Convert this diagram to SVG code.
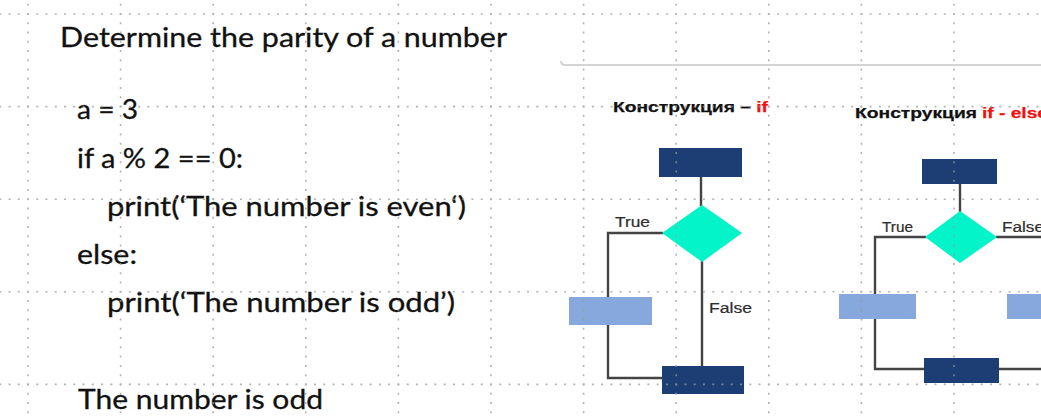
<svg xmlns="http://www.w3.org/2000/svg" width="1041" height="419" viewBox="0 0 1041 419">
  <style>
    .code { font-family: Lato, "Open Sans", "Liberation Sans", sans-serif; font-size: 27px; fill: #111; stroke: #111; stroke-width: 0.3; }
    .cap { font-family: "Liberation Sans", Arial, sans-serif; font-weight: bold; font-size: 15px; fill: #111; stroke: #111; stroke-width: 0.25; }
    .red { fill: #f01010; stroke: #f01010; }
    .lbl { font-family: "Liberation Sans", Arial, sans-serif; font-size: 14px; fill: #2e2e2e; stroke: #2e2e2e; stroke-width: 0.2; }
    .dark { fill: #1d3e74; }
    .light { fill: #86a8dc; }
    .dec { fill: #02f4c8; }
    .wire { fill: none; stroke: #444; stroke-width: 2.4; }
    .grid { fill: none; stroke: #9a9a9a; stroke-width: 1.6; stroke-dasharray: 2 7.26; opacity: 0.75; }
  </style>

  <rect width="1041" height="419" fill="#fff"/>

  <!-- program listing -->
  <g id="listing">
    <text class="code" x="60" y="47" textLength="447" lengthAdjust="spacingAndGlyphs">Determine the parity of a number</text>
    <text class="code" x="77" y="119" textLength="61" lengthAdjust="spacingAndGlyphs">a = 3</text>
    <text class="code" x="77" y="168" textLength="166" lengthAdjust="spacingAndGlyphs">if a % 2 == 0:</text>
    <text class="code" x="107" y="216" textLength="359" lengthAdjust="spacingAndGlyphs">print(‘The number is even‘)</text>
    <text class="code" x="77" y="264" textLength="60" lengthAdjust="spacingAndGlyphs">else:</text>
    <text class="code" x="107" y="312" textLength="348" lengthAdjust="spacingAndGlyphs">print(‘The number is odd’)</text>
    <text class="code" x="78" y="409" textLength="245" lengthAdjust="spacingAndGlyphs">The number is odd</text>
  </g>

  <!-- separator under the slide header -->
  <path d="M561,61 Q561,65 565,65 H1041" fill="none" stroke="#d4d4d4" stroke-width="2"/>

  <!-- captions -->
  <g id="caption-if">
    <text class="cap" x="613" y="112" textLength="155" lengthAdjust="spacingAndGlyphs">Конструкция – <tspan class="red">if</tspan></text>
  </g>
  <g id="caption-if-else">
    <text class="cap" x="855" y="118" textLength="122" lengthAdjust="spacingAndGlyphs">Конструкция</text>
    <text class="cap red" x="982" y="118" textLength="66" lengthAdjust="spacingAndGlyphs">if - else</text>
  </g>

  <!-- connectors -->
  <g id="connectors">
    <!-- if -->
    <path class="wire" d="M701,177 V206"/>
    <path class="wire" d="M663,233 H608 V297"/>
    <path class="wire" d="M608,325 V378 H662"/>
    <path class="wire" d="M702,261 V366"/>
    <!-- if - else -->
    <path class="wire" d="M960,184 V212"/>
    <path class="wire" d="M926,237 H875 V294"/>
    <path class="wire" d="M996,237 H1041"/>
    <path class="wire" d="M875,319 V369 H924"/>
    <path class="wire" d="M999,369 H1041"/>
  </g>

  <!-- flowchart "if" -->
  <g id="if-start"><rect class="dark" x="659" y="148" width="83" height="29"/></g>
  <g id="if-cond"><polygon class="dec" points="702,205 742,233 702,262 662,233"/></g>
  <g id="if-true-label"><text class="lbl" x="615" y="227" textLength="35" lengthAdjust="spacingAndGlyphs">True</text></g>
  <g id="if-body"><rect class="light" x="569" y="297" width="83" height="28"/></g>
  <g id="if-false-label"><text class="lbl" x="709" y="313" font-size="16" textLength="43" lengthAdjust="spacingAndGlyphs">False</text></g>
  <g id="if-end"><rect class="dark" x="662" y="366" width="82" height="28"/></g>

  <!-- flowchart "if - else" -->
  <g id="ifelse-start"><rect class="dark" x="922" y="159" width="75" height="25"/></g>
  <g id="ifelse-cond"><polygon class="dec" points="960,211 997,237 960,263 925,237"/></g>
  <g id="ifelse-true-label"><text class="lbl" x="882" y="232" textLength="31" lengthAdjust="spacingAndGlyphs">True</text></g>
  <g id="ifelse-false-label"><text class="lbl" x="1002" y="232" textLength="42" lengthAdjust="spacingAndGlyphs">False</text></g>
  <g id="ifelse-true-body"><rect class="light" x="839" y="294" width="77" height="25"/></g>
  <g id="ifelse-false-body"><rect class="light" x="1007" y="294" width="77" height="25"/></g>
  <g id="ifelse-end"><rect class="dark" x="924" y="358" width="75" height="25"/></g>

  <!-- dotted layout grid, drawn over everything -->
  <g id="grid" class="grid">
    <path d="M28,-5.52 V419 M120.6,-5.52 V419 M213.2,-5.52 V419 M305.8,-5.52 V419 M398.4,-5.52 V419 M491,-5.52 V419 M583.6,-5.52 V419 M676.2,-5.52 V419 M768.8,-5.52 V419 M861.4,-5.52 V419 M954,-5.52 V419"/>
    <path d="M-10.04,14 H1041 M-10.04,106.6 H1041 M-10.04,199.2 H1041 M-10.04,291.8 H1041 M-10.04,384.4 H1041"/>
  </g>
</svg>
